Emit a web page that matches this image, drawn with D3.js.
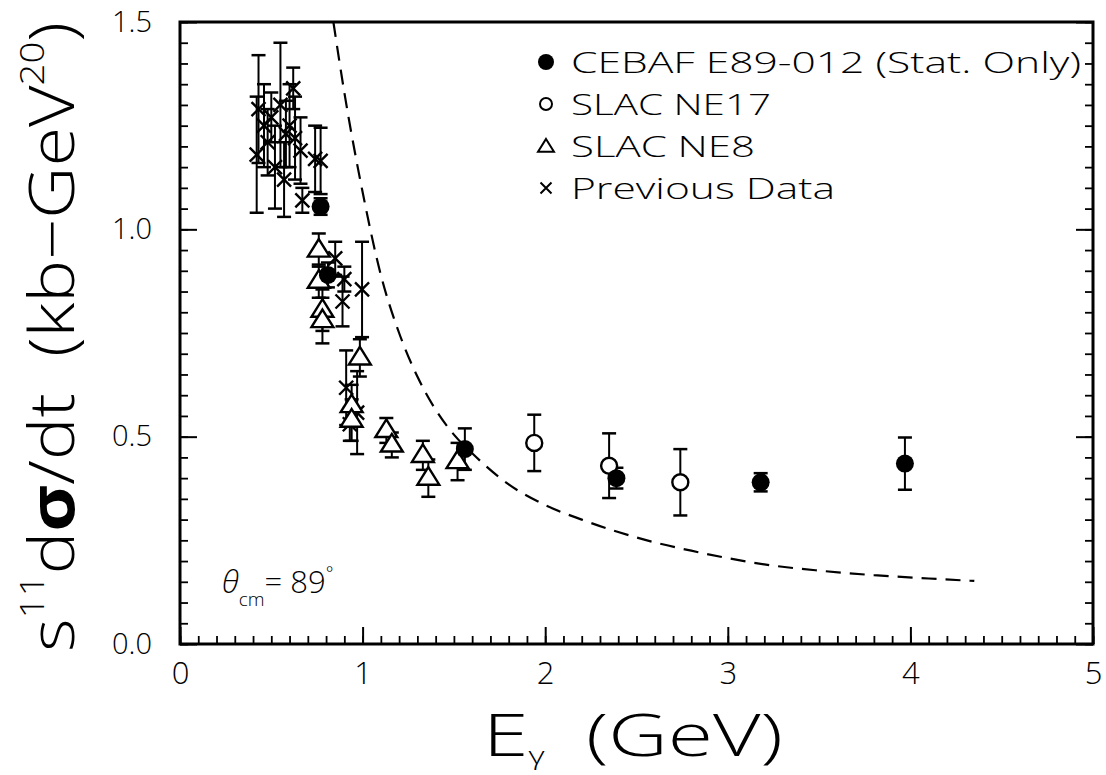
<!DOCTYPE html>
<html>
<head>
<meta charset="utf-8">
<script src="https://cdn.jsdelivr.net/npm/d3@7"></script>
<style>
  body { margin: 0; background: #fff; }
  svg text { font-family: "Open Sans", "DejaVu Sans", sans-serif; fill: #000; }
</style>
</head>
<body>
<div id="viz"></div>
<script>
// --- data: [E (GeV), s^11 dsigma/dt, error] ---
var cebaf_E   = [0.77, 0.81, 1.56, 2.39, 3.18, 3.97];
var cebaf_y   = [1.055, 0.89, 0.47, 0.40, 0.39, 0.435];
var cebaf_err = [0.02, 0.03, 0.05, 0.025, 0.022, 0.063];

var ne17_E   = [1.94, 2.35, 2.74];
var ne17_y   = [0.485, 0.43, 0.39];
var ne17_err = [0.068, 0.078, 0.08];

var ne8_E   = [0.76, 0.76, 0.78, 0.78, 0.985, 0.94, 0.94, 1.13, 1.16, 1.33, 1.36, 1.52];
var ne8_y   = [0.95, 0.875, 0.805, 0.78, 0.69, 0.575, 0.54, 0.515, 0.48, 0.455, 0.40, 0.44];
var ne8_err = [0.04, 0.04, 0.05, 0.055, 0.045, 0.05, 0.05, 0.03, 0.03, 0.035, 0.045, 0.045];

var prev_E   = [0.42, 0.43, 0.46, 0.48, 0.50, 0.52, 0.55, 0.57, 0.58, 0.60, 0.62, 0.63, 0.66, 0.67, 0.74, 0.77, 0.85, 0.90, 0.89, 0.997, 0.91, 0.97, 0.93];
var prev_y   = [1.18, 1.29, 1.25, 1.21, 1.27, 1.15, 1.30, 1.12, 1.23, 1.25, 1.34, 1.22, 1.19, 1.07, 1.17, 1.165, 0.93, 0.88, 0.826, 0.855, 0.618, 0.558, 0.53];
var prev_err = [0.14, 0.13, 0.10, 0.08, 0.06, 0.10, 0.15, 0.09, 0.08, 0.10, 0.05, 0.10, 0.08, 0.03, 0.08, 0.08, 0.04, 0.03, 0.06, 0.115, 0.09, 0.10, 0.04];

// dashed model curve
var curve_E = [0.84, 0.9, 1.0, 1.1, 1.2, 1.3, 1.4, 1.5, 1.6, 1.8, 2.0, 2.2, 2.4, 2.6, 2.8, 3.0, 3.2, 3.5, 3.8, 4.1, 4.35];
var curve_y = [1.5, 1.33, 1.09, 0.89, 0.75, 0.645, 0.565, 0.505, 0.46, 0.385, 0.335, 0.30, 0.27, 0.245, 0.225, 0.207, 0.192, 0.177, 0.166, 0.158, 0.152];

var legend_labels = ["CEBAF E89-012 (Stat. Only)", "SLAC NE17", "SLAC NE8", "Previous Data"];
var x_ticks = [0, 1, 2, 3, 4, 5];
var y_ticks = [0.0, 0.5, 1.0, 1.5];

var width = 1106, height = 775;
var plot_left = 180, plot_right = 1093, plot_top = 22, plot_bottom = 644;

var svg = d3.select("#viz").append("svg")
  .attr("width", width)
  .attr("height", height);

var x = d3.scaleLinear().domain([0, 5]).range([plot_left, plot_right]);
var y = d3.scaleLinear().domain([0, 1.5]).range([plot_bottom, plot_top]);

function zip(E, v, e) {
  return E.map(function(d, i) { return {E: d, y: v[i], err: e[i]}; });
}

// --- axes (ticks point inward) ---
var minorX = d3.range(0, 51).map(function(d) { return d / 10; });
var minorY = d3.range(0, 31).map(function(d) { return d / 20; });

svg.append("g").attr("transform", "translate(0," + plot_bottom + ")")
  .call(d3.axisBottom(x).tickValues(minorX).tickSize(-8).tickFormat(""))
  .call(function(g) { g.select(".domain").remove(); g.selectAll("line").attr("stroke-width", 1.8); });
svg.append("g").attr("transform", "translate(0," + plot_bottom + ")")
  .call(d3.axisBottom(x).tickValues(x_ticks).tickSize(-17).tickPadding(18).tickFormat(d3.format("d")))
  .call(function(g) {
    g.select(".domain").remove();
    g.selectAll("line").attr("stroke-width", 2);
    g.selectAll("text").attr("font-size", 31).attr("font-weight", 300);
  });

svg.append("g").attr("transform", "translate(" + plot_left + ",0)")
  .call(d3.axisLeft(y).tickValues(minorY).tickSize(-8).tickFormat(""))
  .call(function(g) { g.select(".domain").remove(); g.selectAll("line").attr("stroke-width", 1.8); });
svg.append("g").attr("transform", "translate(" + plot_left + ",0)")
  .call(d3.axisLeft(y).tickValues(y_ticks).tickSize(-17).tickPadding(28).tickFormat(d3.format(".1f")))
  .call(function(g) {
    g.select(".domain").remove();
    g.selectAll("line").attr("stroke-width", 2);
    g.selectAll("text").attr("font-size", 29).attr("font-weight", 300);
  });

svg.append("g").attr("transform", "translate(" + plot_right + ",0)")
  .call(d3.axisRight(y).tickValues(minorY).tickSize(-8).tickFormat(""))
  .call(function(g) { g.select(".domain").remove(); g.selectAll("line").attr("stroke-width", 1.8); });
svg.append("g").attr("transform", "translate(" + plot_right + ",0)")
  .call(d3.axisRight(y).tickValues(y_ticks).tickSize(-17).tickFormat(""))
  .call(function(g) { g.select(".domain").remove(); g.selectAll("line").attr("stroke-width", 2); });

// frame
svg.append("rect")
  .attr("x", plot_left).attr("y", plot_top)
  .attr("width", plot_right - plot_left).attr("height", plot_bottom - plot_top)
  .attr("fill", "none").attr("stroke", "#000").attr("stroke-width", 3);

// --- dashed curve ---
var line = d3.line()
  .x(function(d) { return x(d.E); })
  .y(function(d) { return y(d.y); })
  .curve(d3.curveMonotoneX);

svg.append("path")
  .datum(curve_E.map(function(d, i) { return {E: d, y: curve_y[i]}; }))
  .attr("d", line)
  .attr("fill", "none")
  .attr("stroke", "#000")
  .attr("stroke-width", 2.2)
  .attr("stroke-dasharray", "15,9");

// --- error bars ---
function errorBars(data) {
  var g = svg.append("g").attr("stroke", "#000").attr("stroke-width", 2);
  data.forEach(function(d) {
    g.append("line").attr("x1", x(d.E)).attr("x2", x(d.E))
      .attr("y1", y(d.y + d.err)).attr("y2", y(d.y - d.err));
    g.append("line").attr("x1", x(d.E) - 7).attr("x2", x(d.E) + 7)
      .attr("y1", y(d.y + d.err)).attr("y2", y(d.y + d.err)).attr("stroke-width", 2.5);
    g.append("line").attr("x1", x(d.E) - 7).attr("x2", x(d.E) + 7)
      .attr("y1", y(d.y - d.err)).attr("y2", y(d.y - d.err)).attr("stroke-width", 2.5);
  });
}

var prev = zip(prev_E, prev_y, prev_err);
var ne8 = zip(ne8_E, ne8_y, ne8_err);
var ne17 = zip(ne17_E, ne17_y, ne17_err);
var cebaf = zip(cebaf_E, cebaf_y, cebaf_err);

errorBars(prev);
errorBars(ne8);
errorBars(ne17);
errorBars(cebaf);

// --- markers ---
function crossPath(cx, cy, r) {
  return "M" + (cx - r) + " " + (cy - r) + " L" + (cx + r) + " " + (cy + r) +
    " M" + (cx - r) + " " + (cy + r) + " L" + (cx + r) + " " + (cy - r);
}
function triPath(cx, cy, r) {
  var h = r * Math.sqrt(3) / 2;
  return "M" + cx + " " + (cy - r) + " L" + (cx + h * 1.15) + " " + (cy + r * 0.6) +
    " L" + (cx - h * 1.15) + " " + (cy + r * 0.6) + "z";
}

svg.append("g").selectAll("path").data(prev).join("path")
  .attr("d", function(d) { return crossPath(x(d.E), y(d.y), 7); })
  .attr("stroke", "#000").attr("stroke-width", 2.4).attr("fill", "none");

svg.append("g").selectAll("path").data(ne8).join("path")
  .attr("d", function(d) { return triPath(x(d.E), y(d.y), 11); })
  .attr("stroke", "#000").attr("stroke-width", 2.4).attr("fill", "#fff");

svg.append("g").selectAll("circle").data(ne17).join("circle")
  .attr("cx", function(d) { return x(d.E); })
  .attr("cy", function(d) { return y(d.y); })
  .attr("r", 8).attr("stroke", "#000").attr("stroke-width", 2.4).attr("fill", "#fff");

svg.append("g").selectAll("circle").data(cebaf).join("circle")
  .attr("cx", function(d) { return x(d.E); })
  .attr("cy", function(d) { return y(d.y); })
  .attr("r", 9).attr("fill", "#000");

// --- legend ---
var legend_y = [62, 104, 146, 188];
var lg = svg.append("g");
lg.append("circle").attr("cx", 546).attr("cy", legend_y[0]).attr("r", 8).attr("fill", "#000");
lg.append("circle").attr("cx", 546).attr("cy", legend_y[1]).attr("r", 6)
  .attr("fill", "none").attr("stroke", "#000").attr("stroke-width", 2);
lg.append("path").attr("d", triPath(546, legend_y[2] + 1, 8))
  .attr("fill", "none").attr("stroke", "#000").attr("stroke-width", 2);
lg.append("path").attr("d", crossPath(546, legend_y[3], 5.5))
  .attr("fill", "none").attr("stroke", "#000").attr("stroke-width", 2);
lg.selectAll("text").data(legend_labels).join("text")
  .attr("x", 571)
  .attr("y", function(d, i) { return legend_y[i]; })
  .attr("dy", "0.36em")
  .attr("font-size", 30)
  .attr("font-weight", 300)
  .attr("lengthAdjust", "spacingAndGlyphs")
  .attr("textLength", function(d, i) { return [510, 200, 184, 264][i]; })
  .text(function(d) { return d; });

// --- angle annotation ---
var ann = svg.append("text").attr("x", 222).attr("y", 593).attr("font-size", 31).attr("font-weight", 300);
ann.append("tspan").attr("font-style", "italic").text("θ");
ann.append("tspan").attr("font-size", 19).attr("dy", 13).text("cm");
ann.append("tspan").attr("dy", -13).text("= 89");
ann.append("tspan").attr("font-size", 18).attr("dy", -13).text("°");

// --- axis titles ---
var xt = svg.append("text").attr("x", 633).attr("y", 756).attr("text-anchor", "middle")
  .attr("font-size", 58).attr("font-weight", 300)
  .attr("lengthAdjust", "spacingAndGlyphs").attr("textLength", 300);
xt.append("tspan").text("E");
xt.append("tspan").attr("font-size", 24).attr("dy", 8).text("γ");
xt.append("tspan").attr("dy", -8).text("\u2002(GeV)");

var yt = svg.append("text")
  .attr("transform", "translate(74," + ((plot_top + plot_bottom) / 2 + 4) + ") rotate(-90)")
  .attr("text-anchor", "middle")
  .attr("font-size", 62).attr("font-weight", 300)
  .attr("lengthAdjust", "spacingAndGlyphs").attr("textLength", 630);
yt.append("tspan").text("s");
yt.append("tspan").attr("font-size", 33).attr("dy", -30).text("11");
yt.append("tspan").attr("dy", 30).text("d");
yt.append("tspan").attr("font-weight", 700).text("σ");
yt.append("tspan").text("/dt\u2002(kb\u2212GeV");
yt.append("tspan").attr("font-size", 33).attr("dy", -30).text("20");
yt.append("tspan").attr("dy", 30).text(")");
</script>
</body>
</html>
